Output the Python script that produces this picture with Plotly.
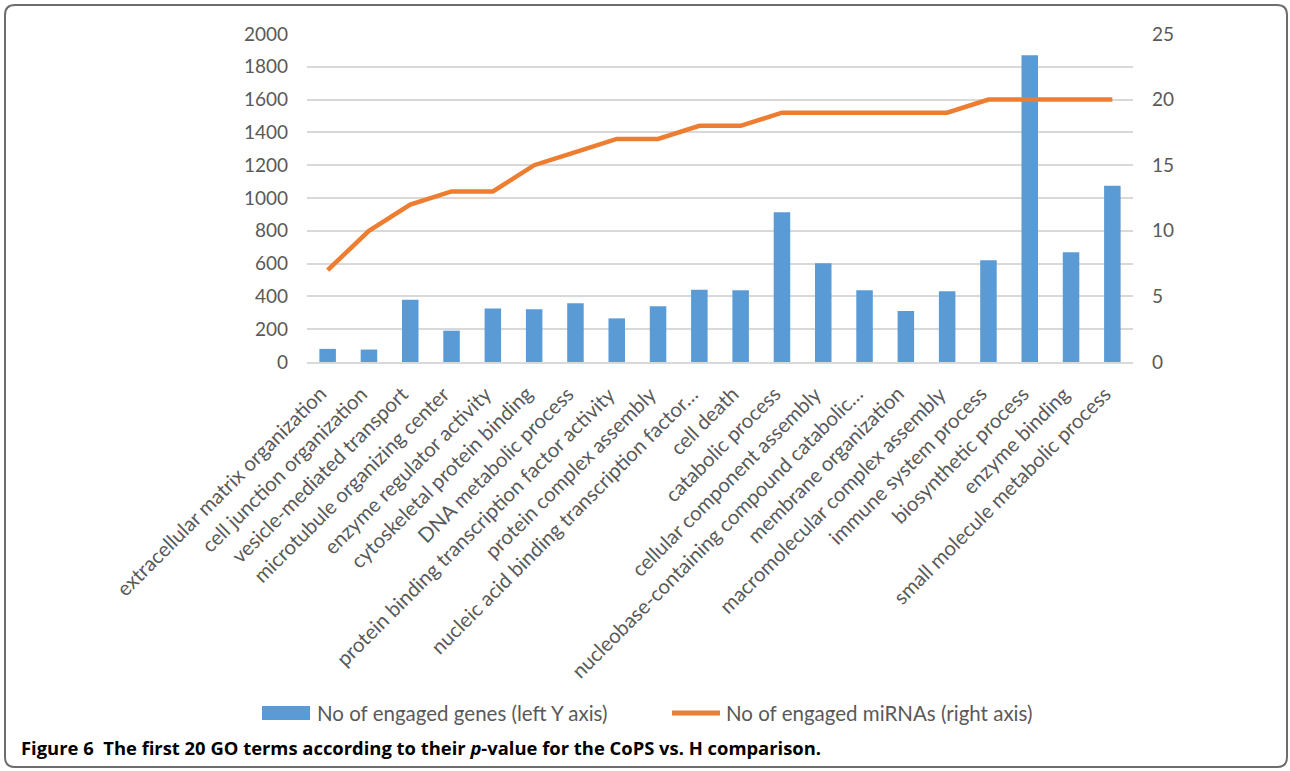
import plotly.graph_objects as go

categories = [
    "extracellular matrix organization",
    "cell junction organization",
    "vesicle-mediated transport",
    "microtubule organizing center",
    "enzyme regulator activity",
    "cytoskeletal protein binding",
    "DNA metabolic process",
    "protein binding transcription factor activity",
    "protein complex assembly",
    "nucleic acid binding transcription factor\u2026",
    "cell death",
    "catabolic process",
    "cellular component assembly",
    "nucleobase-containing compound catabolic\u2026",
    "membrane organization",
    "macromolecular complex assembly",
    "immune system process",
    "biosynthetic process",
    "enzyme binding",
    "small molecule metabolic process",
]
genes = [80, 76, 380, 191, 326, 321, 358, 266, 340, 441,
         437, 913, 602, 437, 311, 431, 620, 1870, 669, 1075]
mirnas = [7, 10, 12, 13, 13, 15, 16, 17, 17, 18,
          18, 19, 19, 19, 19, 19, 20, 20, 20, 20]
left_ticks = list(range(0, 2001, 200))
right_ticks = list(range(0, 26, 5))

W, H = 1290, 771
L, R, T, B = 307, 1133, 34, 362

def px(X):
    return (X - L) / (R - L)

def py(Y):
    return (B - Y) / (B - T)

FONT = "Lato"
GRAY = "#595959"
n = len(categories)
idx = list(range(n))
label_shift = -0.1  # category-label anchor offset, in category widths

fig = go.Figure()
fig.add_trace(go.Bar(
    x=idx, y=genes, name="No of engaged genes (left Y axis)",
    marker=dict(color="#5b9bd5", line=dict(width=0)), width=0.4,
    xaxis="x", yaxis="y", showlegend=False,
    hovertext=categories,
))
fig.add_trace(go.Scatter(
    x=idx, y=mirnas, name="No of engaged miRNAs (right axis)",
    mode="lines", line=dict(color="#ed7d31", width=4.5),
    xaxis="x", yaxis="y2", showlegend=False,
    hovertext=categories,
))

fig.update_layout(
    width=W, height=H,
    margin=dict(l=L, r=W - R, t=T, b=H - B),
    paper_bgcolor="white", plot_bgcolor="white",
    font=dict(family=FONT, color=GRAY),
    xaxis=dict(
        range=[-0.5, n - 0.5], showticklabels=False,
        showgrid=False, showline=True, linecolor="#d9d9d9", linewidth=1.5,
        ticks="", zeroline=False,
    ),
    yaxis=dict(
        range=[0, 2000], tickvals=left_ticks, showgrid=True,
        gridcolor="#d9d9d9", gridwidth=1.5, zeroline=False,
        tickfont=dict(size=19, color=GRAY, family=FONT), ticks="",
        ticklabelstandoff=18, showline=False,
    ),
    yaxis2=dict(
        range=[0, 25], tickvals=right_ticks, overlaying="y", side="right",
        showgrid=False, zeroline=False,
        tickfont=dict(size=19, color=GRAY, family=FONT), ticks="",
        ticklabelstandoff=18, showline=False,
    ),
    showlegend=False,
)

# rotated category labels (placed like the original's)
for i, cat in enumerate(categories):
    fig.add_annotation(
        x=i - label_shift, y=py(380), xref="x", yref="paper",
        text=cat, textangle=-45, showarrow=False,
        xanchor="right", yanchor="top", borderpad=0,
        font=dict(size=20.4, color=GRAY, family=FONT),
    )

# outer rounded frame
x0, x1, y0, y1, r = 5, 1287, 5, 767, 10
path = (
    f"M {px(x0+r)},{py(y0)} L {px(x1-r)},{py(y0)} "
    f"Q {px(x1)},{py(y0)} {px(x1)},{py(y0+r)} "
    f"L {px(x1)},{py(y1-r)} Q {px(x1)},{py(y1)} {px(x1-r)},{py(y1)} "
    f"L {px(x0+r)},{py(y1)} Q {px(x0)},{py(y1)} {px(x0)},{py(y1-r)} "
    f"L {px(x0)},{py(y0+r)} Q {px(x0)},{py(y0)} {px(x0+r)},{py(y0)} Z"
)
fig.add_shape(type="path", path=path, xref="paper", yref="paper",
              line=dict(color="#6d6d6d", width=2), layer="above")

# legend (drawn to match the original's wide swatches)
fig.add_shape(type="rect", xref="paper", yref="paper",
              x0=px(262), x1=px(310), y0=py(720), y1=py(706),
              fillcolor="#5b9bd5", line=dict(width=0))
fig.add_annotation(x=px(315), y=py(713), xref="paper", yref="paper",
                   text="No of engaged genes (left Y axis)", showarrow=False,
                   xanchor="left", yanchor="middle",
                   font=dict(size=20.5, color=GRAY, family=FONT))
fig.add_shape(type="line", xref="paper", yref="paper",
              x0=px(672), x1=px(720), y0=py(713), y1=py(713),
              line=dict(color="#ed7d31", width=5))
fig.add_annotation(x=px(724), y=py(713), xref="paper", yref="paper",
                   text="No of engaged miRNAs (right axis)", showarrow=False,
                   xanchor="left", yanchor="middle",
                   font=dict(size=20.5, color=GRAY, family=FONT))

# caption
fig.add_annotation(x=px(19), y=py(747), xref="paper", yref="paper",
                   text="<b>Figure 6  The first 20 GO terms according to their <i>p</i>-value for the CoPS vs. H comparison.</b>",
                   showarrow=False, xanchor="left", yanchor="middle",
                   font=dict(size=18.4, color="black", family="Open Sans"))

fig.write_html("out.html")
